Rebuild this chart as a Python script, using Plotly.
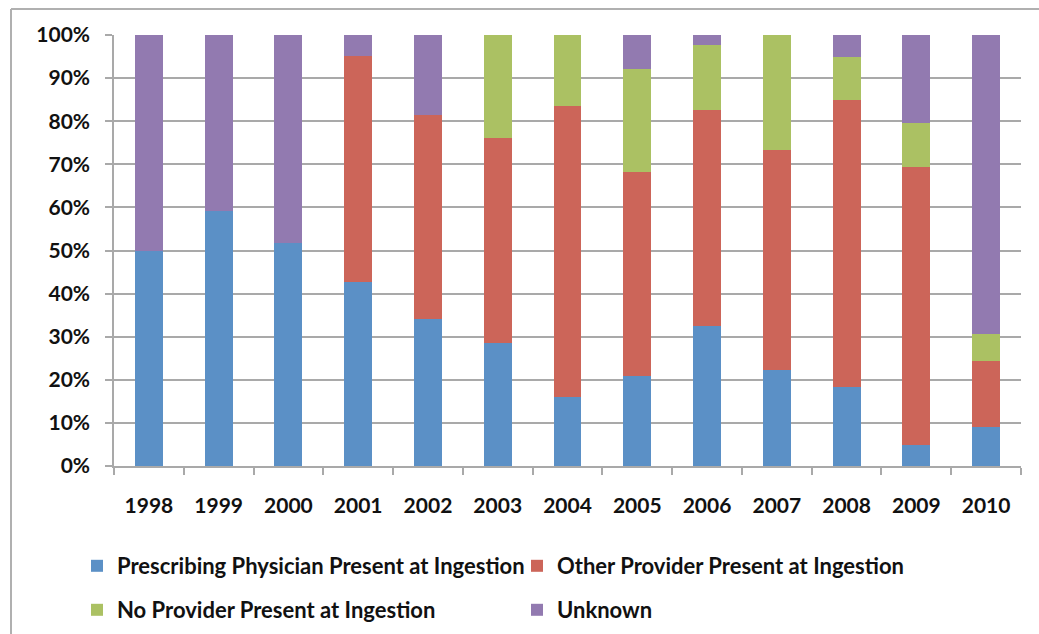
import plotly.graph_objects as go

years = ["1998", "1999", "2000", "2001", "2002", "2003", "2004",
         "2005", "2006", "2007", "2008", "2009", "2010"]

prescribing = [50.0, 59.1, 51.7, 42.7, 34.1, 28.5, 16.1, 20.9, 32.5, 22.3, 18.3, 4.9, 9.1]
other = [0.0, 0.0, 0.0, 52.4, 47.4, 47.6, 67.5, 47.4, 50.0, 51.0, 66.6, 64.4, 15.3]
no_provider = [0.0, 0.0, 0.0, 0.0, 0.0, 23.9, 16.4, 23.7, 15.2, 26.7, 10.0, 10.2, 6.3]
unknown = [50.0, 40.9, 48.3, 4.9, 18.5, 0.0, 0.0, 8.0, 2.3, 0.0, 5.1, 20.5, 69.3]

series_names = ["Prescribing Physician Present at Ingestion",
                "Other Provider Present at Ingestion",
                "No Provider Present at Ingestion",
                "Unknown"]
series_values = [prescribing, other, no_provider, unknown]
colors = ["#5b90c6", "#cc6559", "#abc163", "#927ab0"]
legend_ids = ["legend", "legend", "legend2", "legend2"]

y_ticks = [0, 10, 20, 30, 40, 50, 60, 70, 80, 90, 100]
y_tick_labels = [f"{v}%" for v in y_ticks]

W, H = 1039, 634
L, R, T, B = 114, 18, 35, 168
pw, ph = W - L - R, H - T - B

def px_x(x):
    return (x - L) / pw

def px_y(y):
    return (H - B - y) / ph

fig = go.Figure()
for name, vals, col, lg in zip(series_names, series_values, colors, legend_ids):
    fig.add_trace(go.Bar(
        x=years, y=vals, name=name, legend=lg,
        marker=dict(color=col, line=dict(width=0)),
    ))

font_family = "Lato, 'Open Sans', sans-serif"
tick_font = dict(family=font_family, size=21, color="#111111", weight="bold")
legend_font = dict(family=font_family, size=22, color="#111111", weight="bold")
grid_col = "#a9a9a9"

fig.update_layout(
    width=W, height=H,
    margin=dict(l=L, r=R, t=T, b=B, pad=0, autoexpand=False),
    paper_bgcolor="white", plot_bgcolor="white",
    barmode="stack", bargap=0.6,
    showlegend=True,
    legend=dict(orientation="h", x=px_x(77), xanchor="left",
                y=px_y(566), yanchor="middle",
                entrywidth=395, entrywidthmode="pixels",
                font=legend_font, bgcolor="rgba(0,0,0,0)",
                traceorder="normal"),
    legend2=dict(orientation="h", x=px_x(77), xanchor="left",
                 y=px_y(610), yanchor="middle",
                 entrywidth=395, entrywidthmode="pixels",
                 font=legend_font, bgcolor="rgba(0,0,0,0)",
                 traceorder="normal"),
    xaxis=dict(
        type="category", showgrid=False, automargin=False,
        showline=True, linecolor=grid_col, linewidth=1.5,
        ticks="outside", tickson="boundaries", ticklen=7,
        tickcolor=grid_col, tickwidth=1.5,
        tickfont=tick_font, ticklabelstandoff=20,
    ),
    yaxis=dict(
        range=[0, 100], automargin=False,
        tickvals=y_ticks, ticktext=y_tick_labels,
        showgrid=True, gridcolor=grid_col, gridwidth=1.5,
        showline=True, linecolor=grid_col, linewidth=1.5,
        ticks="outside", ticklen=7, tickcolor=grid_col, tickwidth=1.5,
        tickfont=tick_font, ticklabelstandoff=11,
        zeroline=False,
    ),
    shapes=[
        dict(type="line", xref="paper", yref="paper",
             x0=px_x(11), x1=px_x(W + 5), y0=px_y(9), y1=px_y(9),
             line=dict(color="#b0b0b0", width=2)),
        dict(type="line", xref="paper", yref="paper",
             x0=px_x(11), x1=px_x(11), y0=px_y(9), y1=px_y(H + 5),
             line=dict(color="#b0b0b0", width=2)),
    ],
)

fig.write_html(
    "out.html",
    config={"displayModeBar": False},
    post_script="document.body.style.margin='0';document.body.style.overflow='hidden';",
)
